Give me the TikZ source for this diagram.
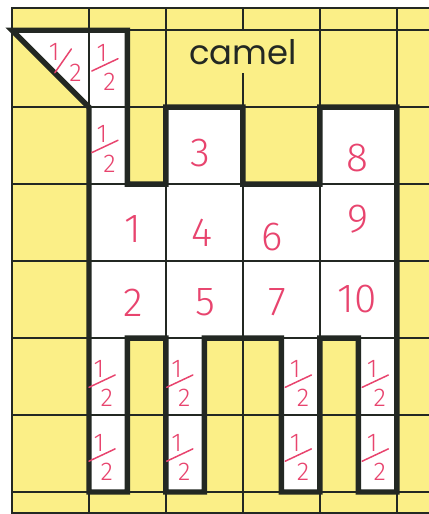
\documentclass[tikz,border=0pt]{standalone}
\usepackage{fontspec}
\newfontfamily\labelfont{Poppins}
\newfontfamily\handfont{Fira Sans Light}
\usetikzlibrary{positioning}
\definecolor{paper}{RGB}{251,239,135}
\definecolor{gridink}{RGB}{35,40,35}
\definecolor{pinkink}{RGB}{232,68,110}
% outline of the camel, in grid cells
\newcommand{\camelpath}{(0,6) -- (1.5,6) -- (1.5,4) -- (2,4) -- (2,5) -- (3,5)
  -- (3,4) -- (4,4) -- (4,5) -- (5,5) -- (5,0) -- (4.5,0) -- (4.5,2) -- (4,2)
  -- (4,0) -- (3.5,0) -- (3.5,2) -- (2.5,2) -- (2.5,0) -- (2,0) -- (2,2)
  -- (1.5,2) -- (1.5,0) -- (1,0) -- (1,5) -- cycle}
% handwritten half: name, x, y, angle
\newcommand{\half}[4]{%
  \begin{scope}[shift={(#2,#3)}, rotate=#4]
    \node[halfdigit] (#1a) at (-0.07,0.18) {1};
    \node[halfdigit] (#1b) at (0.03,-0.2) {2};
    \draw[pinkink, line width=1.1pt, line cap=round] (-0.2,-0.06) -- (0.14,0.1);
  \end{scope}}

\begin{document}
\begin{tikzpicture}[x=2cm, y=2cm,
  gridline/.style={gridink, line width=1.3pt},
  camelline/.style={gridink, line width=4pt},
  numink/.style={pinkink, font=\handfont\fontsize{30}{30}\selectfont, inner sep=0pt},
  halfdigit/.style={pinkink, font=\handfont\fontsize{19}{19}\selectfont, inner sep=0pt}]
\useasboundingbox (-0.156,-0.286) rectangle (5.417,6.393);
% paper and camel
\fill[paper] (0,-0.3) rectangle (5.45,6.3);
\fill[white] \camelpath;
% grid
\foreach \c in {0,...,5}{\draw[gridline] (\c,-0.3) -- (\c,6.3);}
\foreach \r in {0,...,6}{\draw[gridline] (0,\r) -- (5.45,\r);}
\draw[gridline] (0,6.29) -- (5.45,6.29);
\draw[gridline] (0,-0.27) -- (5.45,-0.27);
% title
\node[fill=paper, font=\labelfont\fontsize{25}{25}\selectfont, text=gridink,
  minimum height=1.08cm, inner xsep=2pt] (title) at (3,5.715) {camel};
% outline
\draw[camelline] \camelpath;
% numbers
\node[numink] (n1) at (1.575,3.42) {1};
\node[numink] (n2) at (1.575,2.46) {2};
\node[numink] (n3) at (2.45,4.40) {3};
\node[numink] (n4) at (2.47,3.37) {4};
\node[numink] (n5) at (2.51,2.46) {5};
\node[numink] (n6) at (3.385,3.31) {6};
\node[numink] (n7) at (3.45,2.46) {7};
\node[numink] (n8) at (4.49,4.34) {8};
\node[numink] (n9) at (4.49,3.55) {9};
\node[numink] (n10) at (4.48,2.51) {10};
% halves
\half{h1}{0.70}{5.60}{30}
\half{h2}{1.237}{5.53}{0}
\half{h3}{1.237}{4.47}{0}
\half{h4}{1.20}{1.42}{0}
\half{h5}{1.20}{0.46}{0}
\half{h6}{2.21}{1.42}{0}
\half{h7}{2.21}{0.46}{0}
\half{h8}{3.75}{1.42}{0}
\half{h9}{3.75}{0.46}{0}
\half{h10}{4.75}{1.42}{0}
\half{h11}{4.75}{0.46}{0}
\end{tikzpicture}
\end{document}
